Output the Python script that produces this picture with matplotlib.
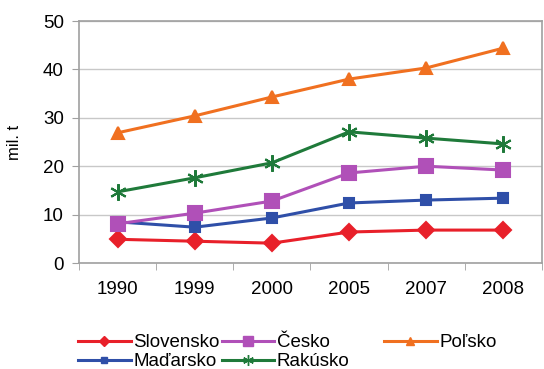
import matplotlib.pyplot as plt
from matplotlib.lines import Line2D

plt.rcParams["font.family"] = ["Liberation Sans", "DejaVu Sans"]

years = ["1990", "1999", "2000", "2005", "2007", "2008"]

slovensko = [4.9, 4.5, 4.1, 6.4, 6.8, 6.8]
madarsko = [8.5, 7.4, 9.3, 12.4, 13.0, 13.4]
cesko = [8.1, 10.3, 12.8, 18.6, 20.0, 19.2]
rakusko = [14.7, 17.6, 20.7, 27.1, 25.8, 24.6]
polsko = [26.9, 30.4, 34.3, 38.0, 40.3, 44.4]

series = [
    ("Slovensko", slovensko, "#e8202a", "D", 8),
    ("Maďarsko", madarsko, "#2f4fa8", "s", 7),
    ("Česko", cesko, "#b050b8", "s", 10),
    ("Rakúsko", rakusko, "#1f7a3a", (6, 2, 0), 12),
    ("Poľsko", polsko, "#f07020", "^", 9),
]

fig = plt.figure(figsize=(5.44, 3.69), dpi=100)
ax = fig.add_axes([79 / 544, 106 / 369, 463 / 544, 242 / 369])

x = list(range(len(years)))
handles = []
for name, values, color, marker, size in series:
    ax.plot(x, values, color=color, linewidth=2.2, marker=marker,
            markersize=size, markeredgecolor=color, markeredgewidth=1.5,
            label=name, zorder=3)
    handles.append(Line2D([], [], color=color, linewidth=2.2, marker=marker,
                          markersize=size * 0.65, markeredgecolor=color))

ax.set_xlim(-0.5, len(years) - 0.5)
ax.set_ylim(0, 50)
ax.set_yticks(range(0, 51, 10))
ax.set_xticks(x)
ax.set_xticklabels(years)
ax.set_xticks([i + 0.5 for i in range(-1, len(years))], minor=True)
ax.tick_params(axis="x", which="major", length=0, pad=13, labelsize=13.5)
ax.tick_params(axis="x", which="minor", length=5, color="#a0a0a0", direction="out")
ax.tick_params(axis="y", length=5, color="#a0a0a0", pad=6, labelsize=13.5)
ax.grid(axis="y", color="#c8c8c8", linewidth=1)
ax.set_axisbelow(True)
for spine in ax.spines.values():
    spine.set_color("#a0a0a0")
    spine.set_linewidth(1.2)
ax.set_ylabel("mil. t", fontsize=12)
ax.yaxis.set_label_coords(-57 / 463, 0.5)

legend_style = dict(loc="upper left", frameon=False, fontsize=13.5,
                    handlelength=2.8, handletextpad=0.15, borderpad=0,
                    borderaxespad=0)
fig.legend(handles[:4], [s[0] for s in series[:4]], ncol=2,
           bbox_to_anchor=(78 / 544, 1 - 334 / 369),
           columnspacing=0.1, labelspacing=0.1, **legend_style)
fig.legend(handles[4:], [series[4][0]],
           bbox_to_anchor=(384 / 544, 1 - 334 / 369), **legend_style)

fig.savefig("out.png", dpi=100)
